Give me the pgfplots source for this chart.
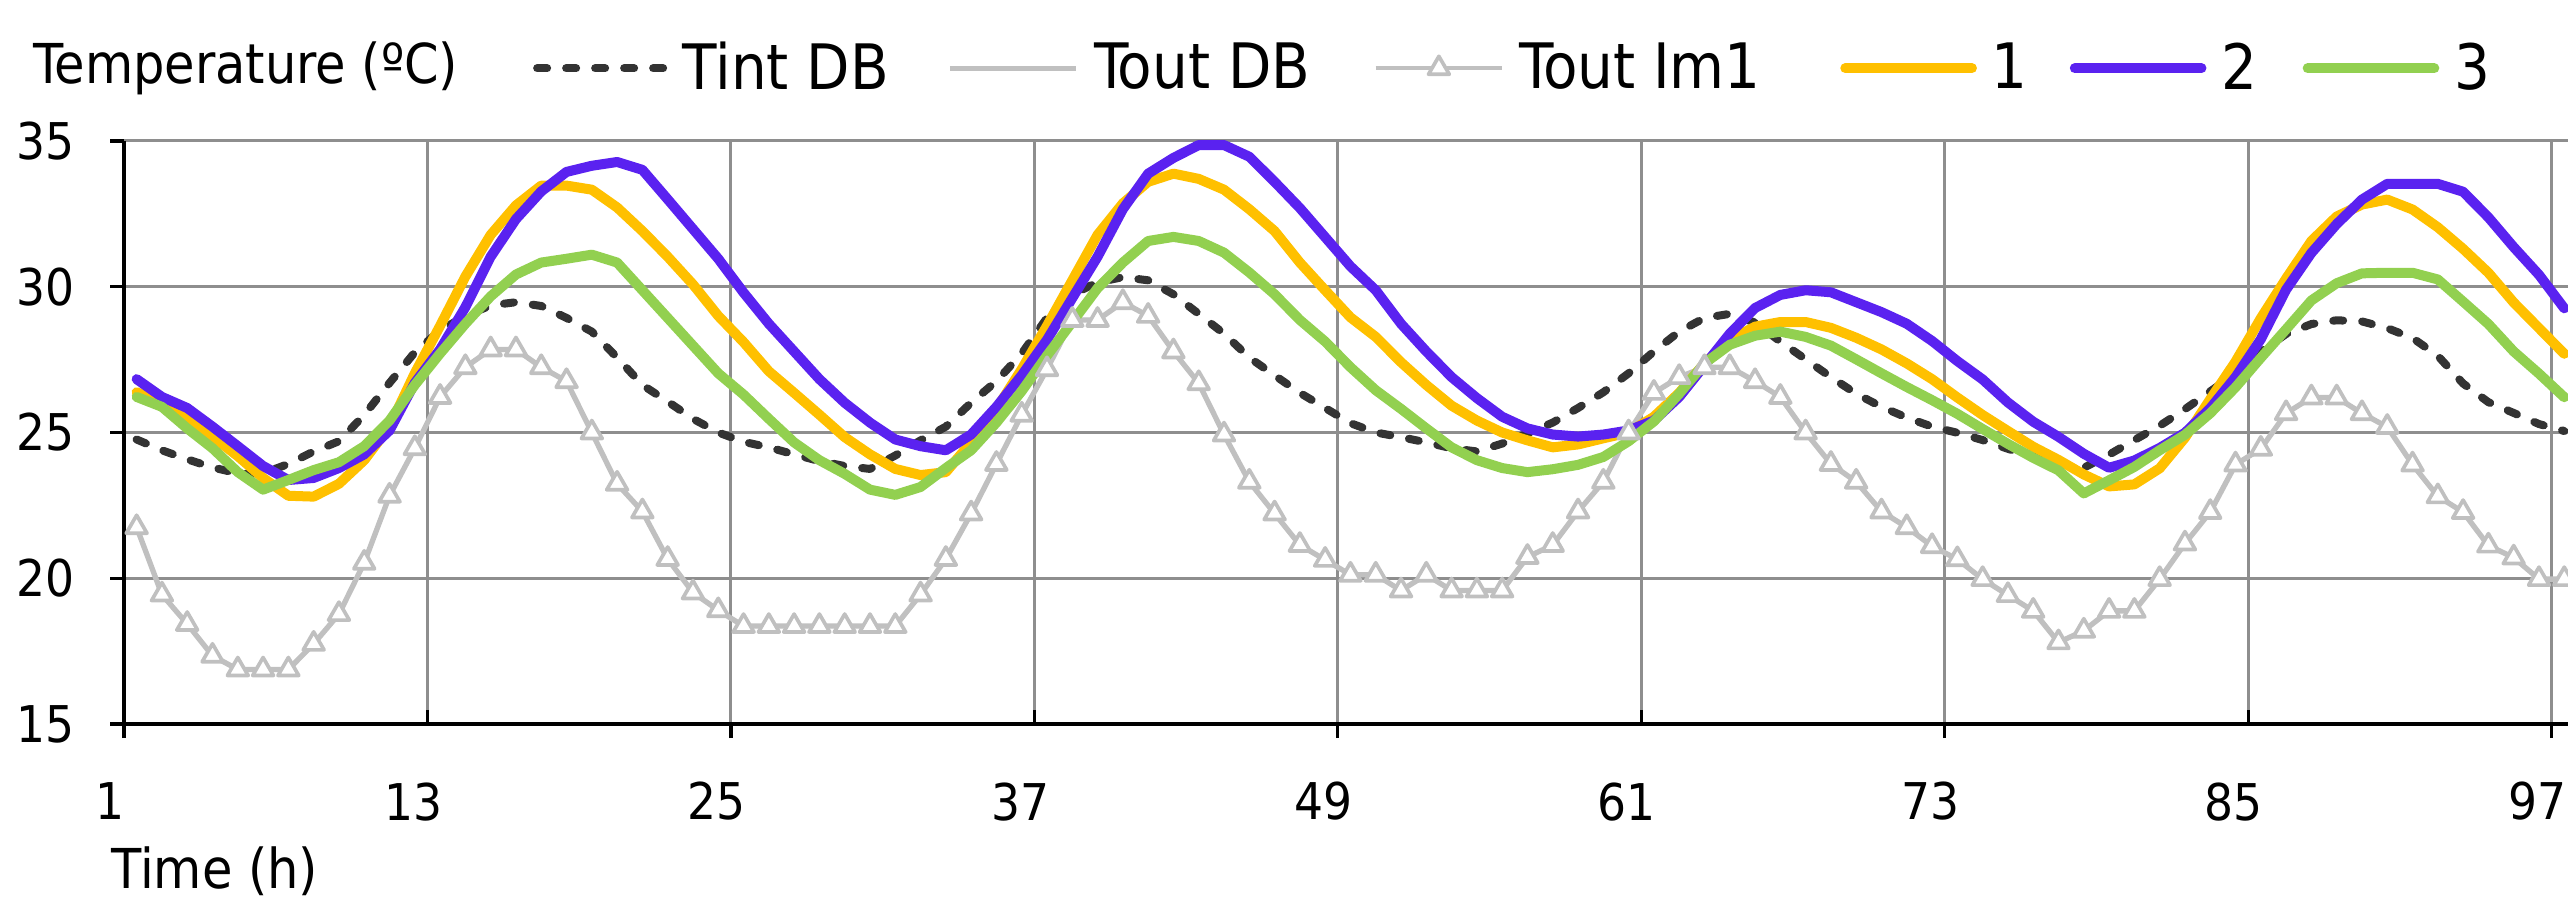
\documentclass[border=0pt]{standalone}
\usepackage{fontspec}
\setmainfont{DejaVu Sans Condensed}
\usepackage{pgfplots}
\usepackage{pgfplotstable}
\pgfplotsset{compat=1.18}
\definecolor{cOrange}{HTML}{FFC000}
\definecolor{cBlue}{HTML}{5A22F0}
\definecolor{cGreen}{HTML}{92D050}
\definecolor{cGray}{HTML}{C0C0C0}
\definecolor{cTint}{HTML}{333333}
\definecolor{gridgray}{HTML}{8E8E8E}
\pgfplotstableread{
h  tout  tint  s1  s2  s3
1  21.75 24.76 26.38 26.83 26.22
2  19.44 24.39 26.06 26.22 25.88
3  18.43 24.08 25.54 25.84 25.14
4  17.34 23.80 24.86 25.20 24.46
5  16.87 23.60 24.19 24.53 23.64
6  16.87 23.60 23.44 23.85 23.04
7  16.87 23.92 22.83 23.37 23.37
8  17.75 24.35 22.80 23.44 23.71
9  18.77 24.70 23.24 23.78 23.98
10 20.53 25.60 24.05 24.25 24.53
11 22.83 26.70 25.20 25.07 25.41
12 24.46 27.75 27.03 26.70 26.63
13 26.22 28.50 28.66 27.85 27.71
14 27.24 29.00 30.35 29.30 28.73
15 27.85 29.36 31.78 31.03 29.67
16 27.85 29.47 32.79 32.32 30.42
17 27.24 29.34 33.47 33.27 30.83
18 26.76 28.93 33.47 33.94 30.96
19 25.00 28.46 33.33 34.15 31.10
20 23.24 27.57 32.72 34.28 30.83
21 22.29 26.63 31.91 34.01 29.88
22 20.66 26.06 31.03 33.00 28.93
23 19.51 25.47 30.08 31.98 27.98
24 18.90 25.00 29.00 30.96 27.03
25 18.36 24.68 28.10 29.80 26.30
26 18.36 24.49 27.10 28.73 25.47
27 18.36 24.25 26.36 27.78 24.66
28 18.36 24.02 25.61 26.83 24.05
29 18.36 23.85 24.84 26.02 23.58
30 18.36 23.75 24.25 25.34 23.04
31 18.36 24.21 23.75 24.76 22.86
32 19.44 24.73 23.54 24.53 23.13
33 20.66 25.20 23.64 24.39 23.78
34 22.22 26.02 24.66 24.93 24.39
35 23.92 26.76 25.81 25.88 25.34
36 25.61 27.71 27.17 26.96 26.42
37 27.17 28.93 28.66 28.18 27.64
38 28.86 29.74 30.22 29.61 28.79
39 28.86 30.15 31.78 31.03 29.95
40 29.47 30.33 32.86 32.66 30.83
41 29.00 30.22 33.60 33.88 31.57
42 27.78 29.74 33.88 34.42 31.71
43 26.69 29.07 33.70 34.86 31.57
44 24.93 28.39 33.33 34.86 31.17
45 23.31 27.57 32.66 34.46 30.49
46 22.22 26.96 31.91 33.60 29.74
47 21.14 26.36 30.83 32.70 28.86
48 20.63 25.84 29.88 31.70 28.12
49 20.12 25.32 28.95 30.70 27.24
50 20.12 25.00 28.28 29.88 26.45
51 19.58 24.84 27.41 28.73 25.81
52 20.12 24.66 26.63 27.78 25.14
53 19.58 24.46 25.92 26.90 24.49
54 19.58 24.35 25.41 26.18 24.05
55 19.58 24.62 25.00 25.54 23.78
56 20.73 24.97 24.73 25.14 23.64
57 21.14 25.34 24.49 24.93 23.74
58 22.29 25.84 24.59 24.86 23.89
59 23.31 26.38 24.80 24.93 24.16
60 25.00 27.03 25.00 25.07 24.70
61 26.36 27.78 25.54 25.41 25.38
62 26.90 28.46 26.36 26.22 26.33
63 27.24 28.93 27.37 27.30 27.37
64 27.24 29.07 28.18 28.39 28.01
65 26.76 28.77 28.63 29.27 28.32
66 26.22 28.12 28.79 29.72 28.46
67 25.00 27.51 28.79 29.88 28.28
68 23.92 26.90 28.59 29.81 27.98
69 23.31 26.33 28.25 29.47 27.51
70 22.29 25.88 27.85 29.13 27.03
71 21.75 25.51 27.37 28.73 26.56
72 21.10 25.20 26.83 28.14 26.11
73 20.65 24.99 26.20 27.45 25.64
74 19.97 24.74 25.60 26.82 25.12
75 19.42 24.44 25.05 26.03 24.61
76 18.88 24.17 24.51 25.37 24.13
77 17.80 23.93 24.06 24.85 23.70
78 18.20 23.79 23.56 24.27 22.91
79 18.88 24.24 23.15 23.79 23.36
80 18.88 24.74 23.22 24.04 23.82
81 19.97 25.23 23.77 24.47 24.39
82 21.19 25.80 24.82 24.99 24.92
83 22.27 26.41 26.14 25.83 25.66
84 23.90 27.02 27.43 26.90 26.55
85 24.44 27.77 28.92 28.20 27.56
86 25.66 28.38 30.28 29.90 28.54
87 26.20 28.72 31.57 31.16 29.53
88 26.20 28.85 32.41 32.15 30.12
89 25.66 28.81 32.82 32.99 30.46
90 25.19 28.58 32.99 33.53 30.48
91 23.90 28.24 32.65 33.53 30.48
92 22.81 27.63 32.04 33.53 30.25
93 22.27 26.68 31.30 33.26 29.49
94 21.12 26.04 30.48 32.38 28.72
95 20.71 25.67 29.46 31.36 27.78
96 19.97 25.29 28.58 30.41 27.02
97 19.97 25.05 27.70 29.26 26.21
}\data
\begin{document}
\begin{tikzpicture}
\useasboundingbox (-37.2pt,-52.8pt) rectangle (733.2pt,217.2pt);
\begin{axis}[
  at={(0,0)}, anchor=south west,
  scale only axis, width=733.2pt, height=174.9pt,
  xmin=0.5, xmax=97.15, ymin=15, ymax=35,
  axis x line=bottom, axis y line=left,
  axis line style={-, line width=1.3pt, black},
  xtick={0.5,24.5,48.5,72.5,96.5}, xticklabels={1,25,49,73,97},
  extra x ticks={12.5,36.5,60.5,84.5}, extra x tick labels={13,37,61,85},
  extra x tick style={grid=major, tick align=inside, tick label style={yshift=-4.4pt}},
  ytick={15,20,25,30,35},
  tick align=outside, major tick length=4.2pt,
  tick style={black, line width=1pt},
  grid=major, grid style={color=gridgray, line width=0.9pt},
  tick label style={font=\fontsize{15.2}{17}\selectfont},
  /pgf/number format/assume math mode=true,
  xticklabel style={anchor=north, inner sep=0pt, yshift=-13.05pt, xshift=-4.3pt},
  yticklabel style={anchor=east, inner sep=0pt, xshift=-10.4pt},
  xlabel={Time (h)}, ylabel={Temperature (ºC)},
  every axis x label/.style={at={(axis description cs:0,0)}, anchor=west, inner sep=0pt, xshift=-3.9pt, yshift=-44.3pt, font=\fontsize{16.5}{19}\selectfont},
  every axis y label/.style={at={(axis description cs:0,1)}, anchor=west, inner sep=0pt, xshift=-27.3pt, yshift=21.8pt, font=\fontsize{16.5}{19}\selectfont},
  clip=false,
  legend columns=-1,
  legend style={at={(axis description cs:0.1674,1.1247)}, anchor=west, draw=none, fill=none, inner sep=0pt, outer sep=0pt, font=\fontsize{18.8}{22}\selectfont, nodes={inner sep=0pt}, /tikz/every odd column/.append style={column sep=4.5pt}, /tikz/every even column/.append style={column sep=19pt}},
  legend image code/.code={\draw[mark repeat=2,mark phase=2,#1] plot coordinates {(0pt,0pt) (19pt,0pt) (38pt,0pt)};},
]
\addplot[cTint, line width=2.4pt, dash pattern=on 3pt off 5.7pt, line cap=round, line join=round] table[x=h,y=tint]{\data};
\addlegendentry{Tint DB\kern-1.5pt}
\addplot[cGray, line width=1.6pt, line join=round] table[x=h,y=tout]{\data};
\addlegendentry{Tout DB}
\addplot[cGray, line width=1.2pt, line join=round, mark=triangle*, mark size=3.6pt, mark options={fill=white, draw=cGray, line width=1.1pt, solid}] table[x=h,y=tout]{\data};
\addlegendentry{Tout Im1\kern4.9pt}
\addplot[cOrange, line width=3pt, line join=round, line cap=round] table[x=h,y=s1]{\data};
\addlegendentry{1\kern-6.4pt}
\addplot[cBlue, line width=3pt, line join=round, line cap=round] table[x=h,y=s2]{\data};
\addlegendentry{2\kern-5.4pt}
\addplot[cGreen, line width=3pt, line join=round, line cap=round] table[x=h,y=s3]{\data};
\addlegendentry{3}
\end{axis}
\end{tikzpicture}
\end{document}
